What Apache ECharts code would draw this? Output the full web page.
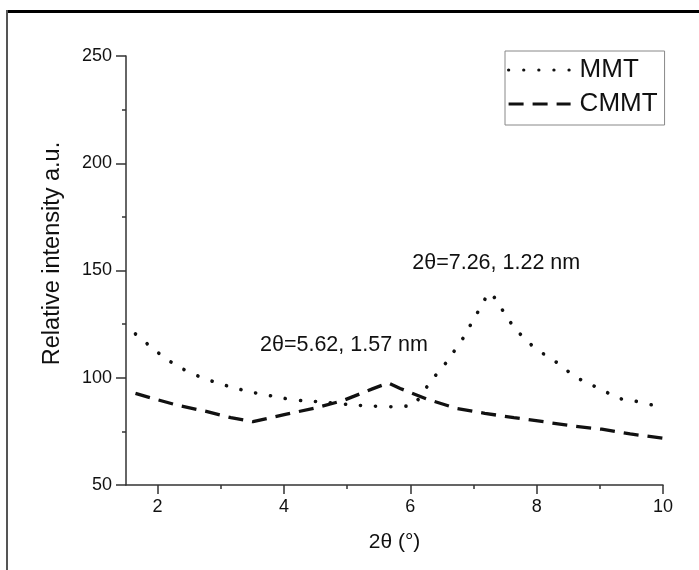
<!DOCTYPE html>
<html>
<head>
<meta charset="utf-8">
<script src="https://cdn.jsdelivr.net/npm/echarts@6/dist/echarts.min.js"></script>
<style>html,body{margin:0;padding:0;background:#fff;}#c{width:699px;height:570px;}</style>
</head>
<body>
<div id="c"></div>
<script>
// ---- data ----
const mmtX = [1.65,1.91,2.14,2.38,2.64,2.91,3.19,3.45,3.72,4.01,4.30,4.57,5.10,5.40,5.70,5.94,6.05,6.34,6.52,6.69,6.85,6.96,7.11,7.26,7.41,7.55,7.73,7.90,8.11,8.38,8.59,8.82,9.06,9.30,9.53,9.83];
const mmtY = [120.4,114.0,108.7,104.4,100.8,97.9,95.5,93.5,92.0,90.4,89.3,88.8,87.3,86.8,86.5,86.8,87.2,99.0,105.2,112.2,119.1,125.0,132.7,139.7,133.9,127.2,120.7,115.7,111.1,105.9,100.8,97.4,94.0,90.4,89.3,87.3];
const cmmtX = [1.65,1.92,2.30,2.77,3.16,3.51,4.04,4.49,4.93,5.40,5.65,5.84,6.25,6.73,7.18,7.64,8.11,8.55,9.03,9.48,10.0];
const cmmtY = [92.7,90.4,87.3,84.3,81.4,79.5,83.0,85.9,89.3,94.8,97.6,95.0,90.2,85.7,83.4,81.4,79.5,77.6,76.0,73.8,71.8];
const xTicks = [2,4,6,8,10];
const xMinorTicks = [3,5,7,9];
const seriesNames = ['MMT','CMMT'];
const annoTexts = ['2θ=7.26, 1.22 nm','2θ=5.62, 1.57 nm'];
const annoAt = [[7.36,153.3],[4.95,115]];
const xName = '2θ (°)';
const yName = 'Relative intensity a.u.';

const zip = (a,b) => a.map((v,i)=>[v,b[i]]);
const FONT = '"Liberation Sans", Arial, sans-serif';
const chart = echarts.init(document.getElementById('c'), null, {renderer:'canvas'});

const axisCol = '#333';
const txtCol = '#111';
chart.setOption({
  animation:false,
  backgroundColor:'#fff',
  textStyle:{fontFamily:FONT},
  grid:{left:126,right:36,top:56,bottom:85,containLabel:false},
  graphic:[
    {type:'rect',shape:{x:6,y:10,width:693,height:3},style:{fill:'#000'},silent:true},
    {type:'rect',shape:{x:6,y:10,width:2,height:560},style:{fill:'#555'},silent:true}
  ],
  legend:{
    orient:'vertical', left:505, top:51,
    backgroundColor:'#fff', borderColor:'#888', borderWidth:1,
    padding:[6,7,8,2], itemGap:8,
    itemWidth:62, itemHeight:14,
    itemStyle:{color:'transparent',borderColor:'transparent',borderWidth:0,opacity:0},
    lineStyle:{width:3.2},
    textStyle:{fontSize:26,color:txtCol,fontFamily:FONT,padding:[0,0,0,4]},
    data:seriesNames
  },
  xAxis:[{
    type:'value', min:1.5, max:10,
    name:xName, nameLocation:'middle', nameGap:47,
    nameTextStyle:{fontSize:21,color:txtCol,fontFamily:FONT},
    axisLine:{show:true,onZero:false,lineStyle:{color:axisCol,width:1.5}},
    axisTick:{show:true,length:9,customValues:xTicks,lineStyle:{color:axisCol,width:1.5}},
    axisLabel:{show:true,customValues:xTicks,fontSize:18,color:txtCol,margin:13,fontFamily:FONT},
    splitLine:{show:false}
  },{
    type:'value', min:1.5, max:10, position:'bottom',
    axisLine:{show:false},
    axisTick:{show:true,length:4,customValues:xMinorTicks,lineStyle:{color:axisCol,width:1.5}},
    axisLabel:{show:false},
    splitLine:{show:false}
  }],
  yAxis:{
    type:'value', min:50, max:250, interval:50,
    name:yName, nameLocation:'middle', nameGap:61, nameRotate:90,
    nameTextStyle:{fontSize:23.5,color:txtCol,fontFamily:FONT,padding:[0,0,0,34]},
    axisLine:{show:true,onZero:false,lineStyle:{color:axisCol,width:1.5}},
    axisTick:{show:true,length:10,lineStyle:{color:axisCol,width:1.5}},
    minorTick:{show:true,splitNumber:2,length:4,lineStyle:{color:axisCol,width:1.5}},
    axisLabel:{fontSize:18,color:txtCol,margin:14,fontFamily:FONT},
    splitLine:{show:false}
  },
  series:[{
    name:seriesNames[0], type:'line', xAxisIndex:0, data:zip(mmtX,mmtY),
    symbol:'none', smooth:0.2,
    lineStyle:{color:'#111',width:3.6,type:[0.1,15],cap:'round'},
    itemStyle:{color:'#111'},
    markPoint:{
      symbol:'circle', symbolSize:0, silent:true,
      label:{show:true,position:'inside',formatter:'{b}',fontSize:21.5,color:txtCol,fontFamily:FONT},
      data:[{name:annoTexts[0],coord:annoAt[0]},{name:annoTexts[1],coord:annoAt[1]}]
    }
  },{
    name:seriesNames[1], type:'line', xAxisIndex:0, data:zip(cmmtX,cmmtY),
    symbol:'none', smooth:false,
    lineStyle:{color:'#111',width:3.3,type:[15,9],cap:'butt'},
    itemStyle:{color:'#111'}
  }]
});
</script>
</body>
</html>
